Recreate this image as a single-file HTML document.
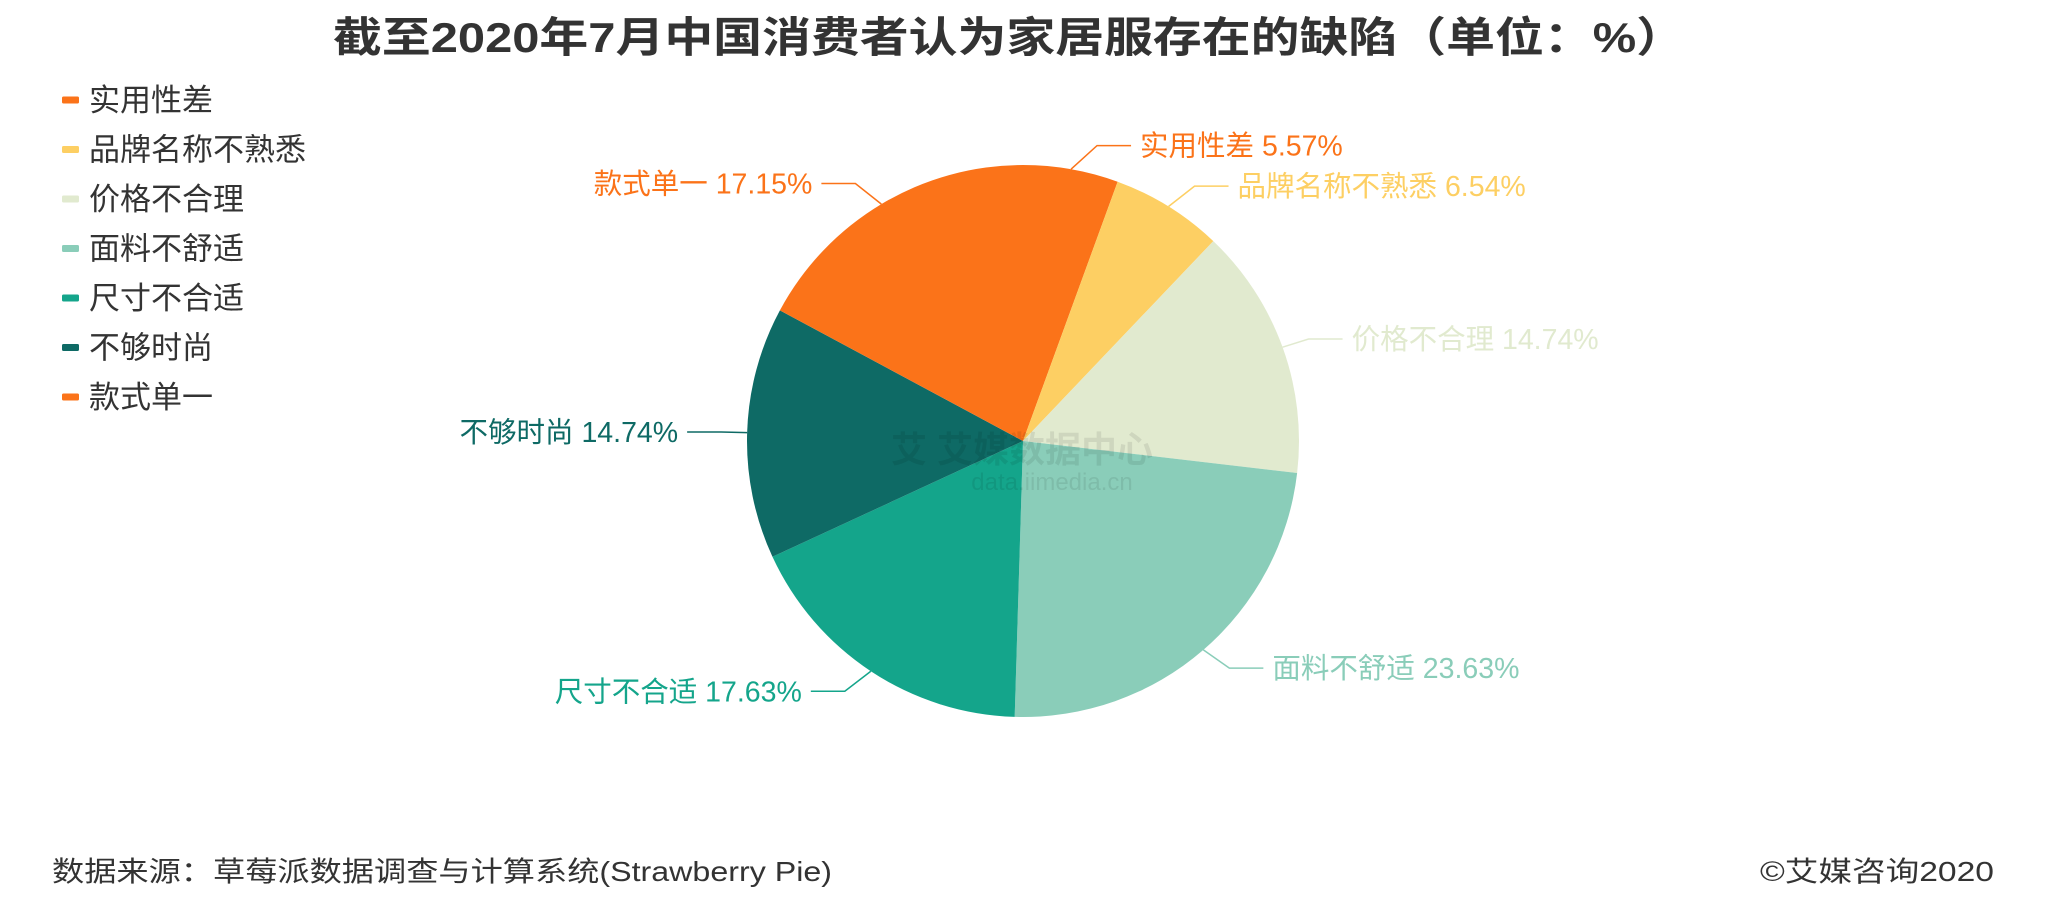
<!DOCTYPE html>
<html><head><meta charset="utf-8"><style>
html,body{margin:0;padding:0;background:#fff;}
svg{display:block;font-family:"Liberation Sans","Noto Sans CJK SC",sans-serif;}
</style></head><body>
<svg id="chart" width="2048" height="919" viewBox="0 0 2048 919">
<text x="1009" y="52" text-anchor="middle" font-size="42" font-weight="bold" fill="#333" textLength="1352" lengthAdjust="spacingAndGlyphs">截至2020年7月中国消费者认为家居服存在的缺陷（单位：%）</text>
<g id="legend"></g>
<g id="slices"></g>
<g opacity="0.08" fill="#000">
<text x="1022" y="462" text-anchor="middle" font-size="36" font-weight="bold">艾 艾媒数据中心</text>
<text x="1052" y="490" text-anchor="middle" font-size="24">data.iimedia.cn</text>
</g>
<g id="labels"></g>
<text x="52" y="881" font-size="28" fill="#333" textLength="780" lengthAdjust="spacingAndGlyphs">数据来源：草莓派数据调查与计算系统(Strawberry Pie)</text>
<text x="1994" y="881" text-anchor="end" font-size="28" fill="#333" textLength="234" lengthAdjust="spacingAndGlyphs">©艾媒咨询2020</text>
</svg>
<script>
const categories = ["实用性差","品牌名称不熟悉","价格不合理","面料不舒适","尺寸不合适","不够时尚","款式单一"];
const values = [5.57, 6.54, 14.74, 23.63, 17.63, 14.74, 17.15];
const valueLabels = ["5.57%","6.54%","14.74%","23.63%","17.63%","14.74%","17.15%"];
const colors = ["#fb7319","#fdcf63","#e1eacf","#8acdb9","#14a58b","#0e6a65","#fb7319"];

const NS = "http://www.w3.org/2000/svg";
const cx = 1023, cy = 441, r = 276, DX = 26, DY = 24, L2 = 34;
const total = values.reduce((a,b)=>a+b,0);
const slicesG = document.getElementById('slices');
const labelsG = document.getElementById('labels');
const legendG = document.getElementById('legend');
function pt(rad, ang){ return [cx + rad*Math.sin(ang), cy - rad*Math.cos(ang)]; }
let acc = 0;
values.forEach((v,i)=>{
  const a0 = acc/total*2*Math.PI; acc += v;
  const a1 = acc/total*2*Math.PI;
  const p0 = pt(r,a0), p1 = pt(r,a1);
  const large = (a1-a0) > Math.PI ? 1 : 0;
  const path = document.createElementNS(NS,'path');
  path.setAttribute('d', `M${cx},${cy} L${p0[0]},${p0[1]} A${r},${r} 0 ${large} 1 ${p1[0]},${p1[1]} Z`);
  path.setAttribute('fill', colors[i]);
  
  
  slicesG.appendChild(path);
  const am = (a0+a1)/2;
  const e = pt(r,am);
  const right = Math.sin(am) >= 0;
  const m = [e[0] + (right ? DX : -DX), e[1] - Math.cos(am)*DY];
  const ex = m[0] + (right ? L2 : -L2);
  const line = document.createElementNS(NS,'polyline');
  line.setAttribute('points', `${e[0]},${e[1]} ${m[0]},${m[1]} ${ex},${m[1]}`);
  line.setAttribute('fill','none');
  line.setAttribute('stroke', colors[i]);
  line.setAttribute('stroke-width','1.5');
  
  
  labelsG.appendChild(line);
  const t = document.createElementNS(NS,'text');
  t.setAttribute('x', ex + (right ? 9 : -9));
  t.setAttribute('y', m[1] + 10);
  t.setAttribute('text-anchor', right ? 'start' : 'end');
  t.setAttribute('font-size', '28.5');
  t.setAttribute('fill', colors[i]);
  t.textContent = categories[i] + ' ' + valueLabels[i];
  
  
  labelsG.appendChild(t);
});
categories.forEach((c,i)=>{
  const y = 100 + i*49.5;
  const rect = document.createElementNS(NS,'rect');
  rect.setAttribute('x', 62); rect.setAttribute('y', y-3.5);
  rect.setAttribute('width', 17); rect.setAttribute('height', 7);
  rect.setAttribute('rx', 1.5);
  rect.setAttribute('fill', colors[i]);
  
  
  legendG.appendChild(rect);
  const t = document.createElementNS(NS,'text');
  t.setAttribute('x', 89); t.setAttribute('y', y + 11);
  t.setAttribute('font-size', '31');
  t.setAttribute('fill', '#333');
  t.textContent = c;
  
  
  legendG.appendChild(t);
});
</script>
</body></html>
